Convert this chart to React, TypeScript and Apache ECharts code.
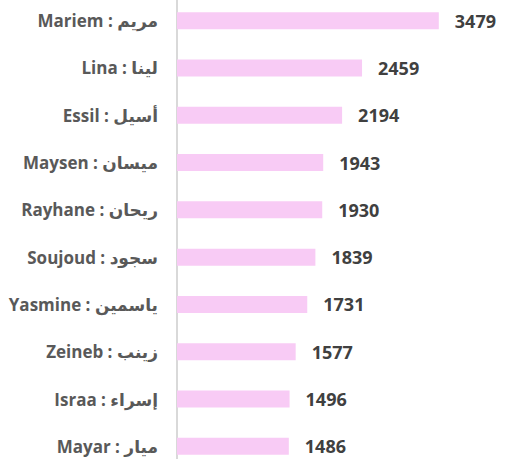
import React, { useEffect, useRef } from "react";
import * as echarts from "echarts";

const categories = [
  "Mariem : مريم",
  "Lina : لينا",
  "Essil : أسيل",
  "Maysen : ميسان",
  "Rayhane : ريحان",
  "Soujoud : سجود",
  "Yasmine : ياسمين",
  "Zeineb : زينب",
  "Israa : إسراء",
  "Mayar : ميار",
];
const values = [3479, 2459, 2194, 1943, 1930, 1839, 1731, 1577, 1496, 1486];

export default function App() {
  const ref = useRef<HTMLDivElement>(null);
  useEffect(() => {
    const chart = echarts.init(ref.current!, null, { renderer: "svg" });
    chart.setOption({
      animation: false,
      grid: { left: 177, right: 35, top: 0, bottom: 0, containLabel: false },
      xAxis: {
        type: "value",
        min: 0,
        max: 4000,
        show: false,
      },
      yAxis: {
        type: "category",
        data: categories,
        inverse: true,
        axisLine: { show: true, lineStyle: { color: "#d9d9d9", width: 2 } },
        axisTick: { show: false },
        axisLabel: {
          margin: 19,
          color: "#595959",
          fontSize: 17,
          fontWeight: "bold",
          fontFamily: "Open Sans, DejaVu Sans, sans-serif",
        },
      },
      series: [
        {
          type: "bar",
          data: values,
          barWidth: 17,
          itemStyle: { color: "#F8CBF5" },
          label: {
            show: true,
            position: "right",
            distance: 16,
            color: "#404040",
            fontSize: 18,
            fontWeight: "bold",
            fontFamily: "Open Sans, sans-serif",
          },
        },
      ],
    });
    return () => chart.dispose();
  }, []);
  return (
    <div style={{ position: "absolute", left: 0, top: 0, width: 513, height: 459, overflow: "hidden" }}>
      <div ref={ref} style={{ width: 513, height: 473, position: "absolute", left: 0, top: -3 }} />
    </div>
  );
}
